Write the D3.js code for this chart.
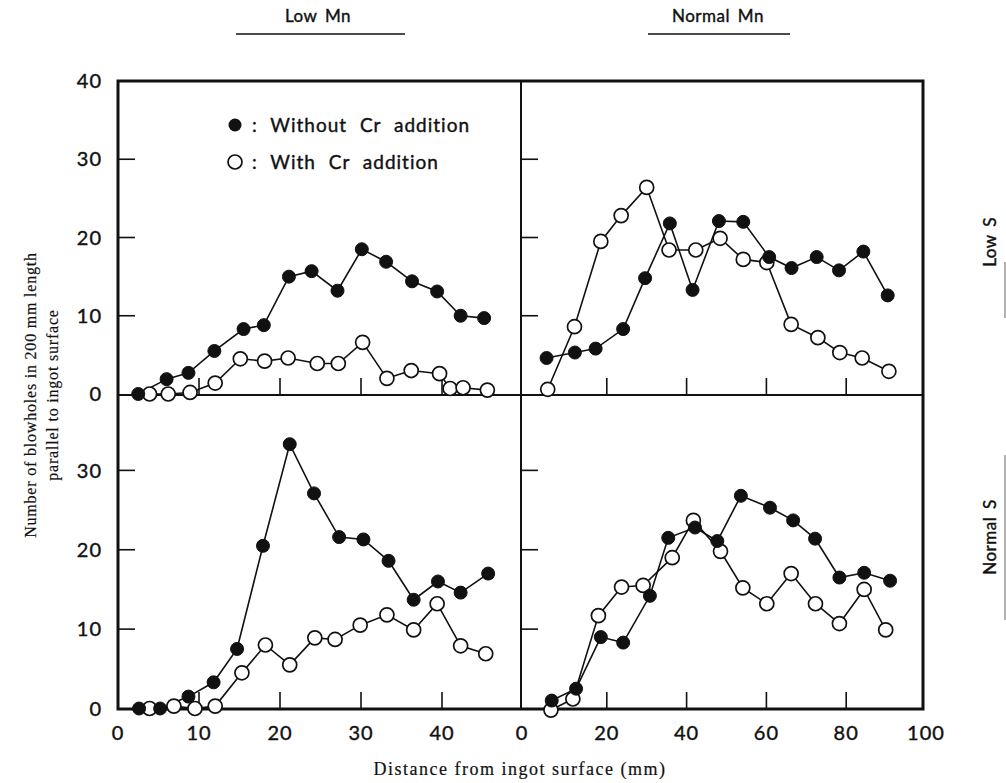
<!DOCTYPE html>
<html lang="en">
<head>
  <meta charset="utf-8">
  <title>Blowholes</title>
  <script src="https://cdn.jsdelivr.net/npm/d3@7"></script>
  <style>
  body { margin: 0; background: #fff; }
  .tick-label { font-family: Lato, "DejaVu Sans", sans-serif; font-size: 20px; fill: #111; letter-spacing: 1px; stroke: #111; stroke-width: 0.4px; }
  .sans { font-family: Lato, "DejaVu Sans", sans-serif; fill: #111; stroke: #111; stroke-width: 0.4px; }
  .serif { font-family: "Liberation Serif", "DejaVu Serif", serif; fill: #111; stroke: #111; stroke-width: 0.2px; }
  </style>
</head>
<body>
<script>
// Low Mn / Low S
var llWithoutX = [2.5, 6.0, 8.7, 11.9, 15.5, 18.0, 21.1, 23.9, 27.1, 30.1, 33.1, 36.3, 39.4, 42.3, 45.2];
var llWithoutY = [0, 1.9, 2.7, 5.5, 8.3, 8.8, 15.0, 15.7, 13.2, 18.5, 16.9, 14.4, 13.1, 10.0, 9.7];
var llWithX = [3.9, 6.2, 8.9, 12.0, 15.1, 18.1, 21.0, 24.6, 27.2, 30.2, 33.2, 36.2, 39.7, 41.0, 42.6, 45.6];
var llWithY = [0, 0, 0.2, 1.4, 4.5, 4.2, 4.6, 3.9, 3.9, 6.6, 2.0, 3.0, 2.6, 0.7, 0.8, 0.5];

// Normal Mn / Low S
var nlWithoutX = [4.9, 12.0, 17.2, 24.1, 29.6, 35.8, 41.5, 48.1, 54.2, 60.7, 66.3, 72.6, 78.2, 84.3, 90.4];
var nlWithoutY = [4.6, 5.3, 5.8, 8.3, 14.8, 21.8, 13.3, 22.1, 22.0, 17.5, 16.1, 17.5, 15.8, 18.2, 12.6];
var nlWithX = [5.2, 11.9, 18.5, 23.6, 30.0, 35.6, 42.3, 48.4, 54.2, 60.1, 66.2, 72.9, 78.4, 84.0, 90.7];
var nlWithY = [0.6, 8.6, 19.5, 22.8, 26.4, 18.4, 18.4, 19.9, 17.2, 16.8, 8.9, 7.2, 5.3, 4.6, 2.9];

// Low Mn / Normal S
var lnWithoutX = [2.6, 5.2, 8.7, 11.8, 14.7, 17.9, 21.2, 24.2, 27.3, 30.3, 33.4, 36.5, 39.5, 42.3, 45.7];
var lnWithoutY = [0, 0, 1.5, 3.3, 7.5, 20.5, 33.3, 27.1, 21.6, 21.3, 18.6, 13.7, 16.0, 14.6, 17.0];
var lnWithX = [3.9, 6.9, 9.5, 12.0, 15.3, 18.2, 21.2, 24.3, 26.8, 29.9, 33.2, 36.5, 39.4, 42.3, 45.4];
var lnWithY = [0, 0.3, 0, 0.3, 4.5, 8.0, 5.5, 8.9, 8.7, 10.5, 11.8, 9.9, 13.2, 7.9, 6.9];

// Normal Mn / Normal S
var nnWithoutX = [6.2, 12.3, 18.5, 24.1, 30.8, 35.4, 42.1, 47.7, 53.6, 60.9, 66.7, 72.2, 78.3, 84.5, 91.0];
var nnWithoutY = [1.0, 2.5, 9.0, 8.3, 14.2, 21.5, 22.8, 21.1, 26.8, 25.3, 23.7, 21.4, 16.5, 17.1, 16.1];
var nnWithX = [6.0, 11.5, 17.9, 23.7, 29.1, 36.4, 41.7, 48.5, 54.1, 60.1, 66.2, 72.3, 78.3, 84.5, 89.9];
var nnWithY = [-0.2, 1.2, 11.7, 15.3, 15.5, 19.0, 23.7, 19.8, 15.2, 13.2, 17.0, 13.2, 10.7, 15.0, 9.9];

var lowMnTicks = [0, 10, 20, 30, 40];
var normMnTicks = [0, 20, 40, 60, 80, 100];
var topYTicks = [0, 10, 20, 30, 40];
var bottomYTicks = [0, 10, 20, 30];

var width = 1006, height = 783;
var svg = d3.select("body").append("svg")
  .attr("width", width).attr("height", height);

// frame edges
var fLeft = 118, fMid = 521, fRight = 923, fTop = 81, fMidY = 395, fBottom = 709;

var xLow = d3.scaleLinear().domain([0, 50]).range([118, 523]);
var xNorm = d3.scaleLinear().domain([0, 100]).range([527, 926]);
var yTop = d3.scaleLinear().domain([0, 40]).range([394, 81]);
var yBottom = d3.scaleLinear().domain([0, 40]).range([708.5, 391]);

function zip(xs, ys) { return xs.map(function(d, i) { return [d, ys[i]]; }); }

var panels = [
  {x: xLow, y: yTop, without: zip(llWithoutX, llWithoutY), with: zip(llWithX, llWithY), ticks: [10, 20, 30, 40], x0: fLeft, y1: fMidY},
  {x: xNorm, y: yTop, without: zip(nlWithoutX, nlWithoutY), with: zip(nlWithX, nlWithY), ticks: [20, 40, 60, 80], x0: fMid, y1: fMidY},
  {x: xLow, y: yBottom, without: zip(lnWithoutX, lnWithoutY), with: zip(lnWithX, lnWithY), ticks: [10, 20, 30, 40], x0: fLeft, y1: fBottom},
  {x: xNorm, y: yBottom, without: zip(nnWithoutX, nnWithoutY), with: zip(nnWithX, nnWithY), ticks: [20, 40, 60, 80], x0: fMid, y1: fBottom}
];

// inner ticks
panels.forEach(function(p) {
  var g = svg.append("g");
  g.selectAll("line.xt").data(p.ticks).enter().append("line")
    .attr("x1", function(d) { return p.x(d); }).attr("x2", function(d) { return p.x(d); })
    .attr("y1", p.y1).attr("y2", p.y1 - 17)
    .attr("stroke", "#111").attr("stroke-width", 1.6);
  g.selectAll("line.yt").data([10, 20, 30]).enter().append("line")
    .attr("x1", p.x0).attr("x2", p.x0 + 17)
    .attr("y1", function(d) { return p.y(d); }).attr("y2", function(d) { return p.y(d); })
    .attr("stroke", "#111").attr("stroke-width", 1.6);
});

// frame
svg.append("rect").attr("x", fLeft).attr("y", fTop).attr("width", fRight - fLeft).attr("height", fBottom - fTop)
  .attr("fill", "none").attr("stroke", "#111").attr("stroke-width", 3);
svg.append("line").attr("x1", fMid).attr("x2", fMid).attr("y1", fTop).attr("y2", fBottom)
  .attr("stroke", "#111").attr("stroke-width", 2);
svg.append("line").attr("x1", fLeft).attr("x2", fRight).attr("y1", fMidY).attr("y2", fMidY)
  .attr("stroke", "#111").attr("stroke-width", 2);

// series
panels.forEach(function(p) {
  var line = d3.line().x(function(d) { return p.x(d[0]); }).y(function(d) { return p.y(d[1]); });
  var g = svg.append("g");
  [p.with, p.without].forEach(function(s) {
    g.append("path").attr("d", line(s)).attr("fill", "none")
      .attr("stroke", "#111").attr("stroke-width", 1.6);
  });
  g.selectAll("circle.w").data(p.with).enter().append("circle")
    .attr("cx", function(d) { return p.x(d[0]); }).attr("cy", function(d) { return p.y(d[1]); })
    .attr("r", 7).attr("fill", "#fff").attr("stroke", "#111").attr("stroke-width", 1.7);
  g.selectAll("circle.f").data(p.without).enter().append("circle")
    .attr("cx", function(d) { return p.x(d[0]); }).attr("cy", function(d) { return p.y(d[1]); })
    .attr("r", 6.5).attr("fill", "#111").attr("stroke", "#111").attr("stroke-width", 1);
});

// tick labels
svg.selectAll("text.yl1").data(topYTicks).enter().append("text")
  .attr("class", "tick-label").attr("x", 102).attr("y", function(d) { return yTop(d); })
  .attr("dy", "0.36em").attr("text-anchor", "end").text(function(d) { return d; });
svg.selectAll("text.yl2").data(bottomYTicks).enter().append("text")
  .attr("class", "tick-label").attr("x", 102).attr("y", function(d) { return yBottom(d); })
  .attr("dy", "0.36em").attr("text-anchor", "end").text(function(d) { return d; });
svg.selectAll("text.xl1").data(lowMnTicks).enter().append("text")
  .attr("class", "tick-label").attr("x", function(d) { return xLow(d); }).attr("y", 740)
  .attr("text-anchor", "middle").text(function(d) { return d; });
svg.selectAll("text.xl2").data(normMnTicks).enter().append("text")
  .attr("class", "tick-label").attr("x", function(d) { return d === 0 ? xNorm(d) - 5 : xNorm(d); }).attr("y", 740)
  .attr("text-anchor", "middle").text(function(d) { return d; });

// legend
svg.append("circle").attr("cx", 235).attr("cy", 125).attr("r", 6.5).attr("fill", "#111");
svg.append("circle").attr("cx", 235).attr("cy", 162).attr("r", 7).attr("fill", "#fff")
  .attr("stroke", "#111").attr("stroke-width", 1.7);
svg.append("text").attr("class", "sans").attr("x", 252).attr("y", 132).style("font-size", "19px")
  .style("letter-spacing", "1px").style("word-spacing", "7px").text(": Without Cr addition");
svg.append("text").attr("class", "sans").attr("x", 252).attr("y", 169).style("font-size", "19px")
  .style("letter-spacing", "1px").style("word-spacing", "7px").text(": With Cr addition");

// column headers
svg.append("text").attr("class", "sans").attr("x", 318).attr("y", 22).attr("text-anchor", "middle")
  .style("font-size", "17px").style("letter-spacing", "0.5px").style("word-spacing", "3px").text("Low Mn");
svg.append("line").attr("x1", 236).attr("x2", 405).attr("y1", 34).attr("y2", 34).attr("stroke", "#111").attr("stroke-width", 1.6);
svg.append("text").attr("class", "sans").attr("x", 718).attr("y", 22).attr("text-anchor", "middle")
  .style("font-size", "17px").style("letter-spacing", "0.5px").style("word-spacing", "3px").text("Normal Mn");
svg.append("line").attr("x1", 648).attr("x2", 790).attr("y1", 34).attr("y2", 34).attr("stroke", "#111").attr("stroke-width", 1.6);

// row headers
svg.append("text").attr("class", "sans").attr("transform", "translate(996,242) rotate(-90)")
  .attr("text-anchor", "middle").style("font-size", "17px").style("letter-spacing", "0.5px").style("word-spacing", "3px").text("Low S");
svg.append("line").attr("x1", 1005).attr("x2", 1005).attr("y1", 262).attr("y2", 318).attr("stroke", "#999").attr("stroke-width", 1.5);
svg.append("text").attr("class", "sans").attr("transform", "translate(996,537) rotate(-90)")
  .attr("text-anchor", "middle").style("font-size", "17px").style("letter-spacing", "0.5px").style("word-spacing", "3px").text("Normal S");
svg.append("line").attr("x1", 1005).attr("x2", 1005).attr("y1", 455).attr("y2", 620).attr("stroke", "#999").attr("stroke-width", 1.5);

// axis titles
svg.append("text").attr("class", "serif").attr("transform", "translate(36,395) rotate(-90)")
  .attr("text-anchor", "middle").style("font-size", "16px").style("letter-spacing", "0.8px")
  .text("Number of blowholes in 200 mm length");
svg.append("text").attr("class", "serif").attr("transform", "translate(58,395) rotate(-90)")
  .attr("text-anchor", "middle").style("font-size", "16px").style("letter-spacing", "0.8px")
  .text("parallel to ingot surface");
svg.append("text").attr("class", "serif").attr("x", 520).attr("y", 775).attr("text-anchor", "middle")
  .style("font-size", "18px").style("letter-spacing", "1.5px").text("Distance from ingot surface (mm)");
</script>
</body>
</html>
